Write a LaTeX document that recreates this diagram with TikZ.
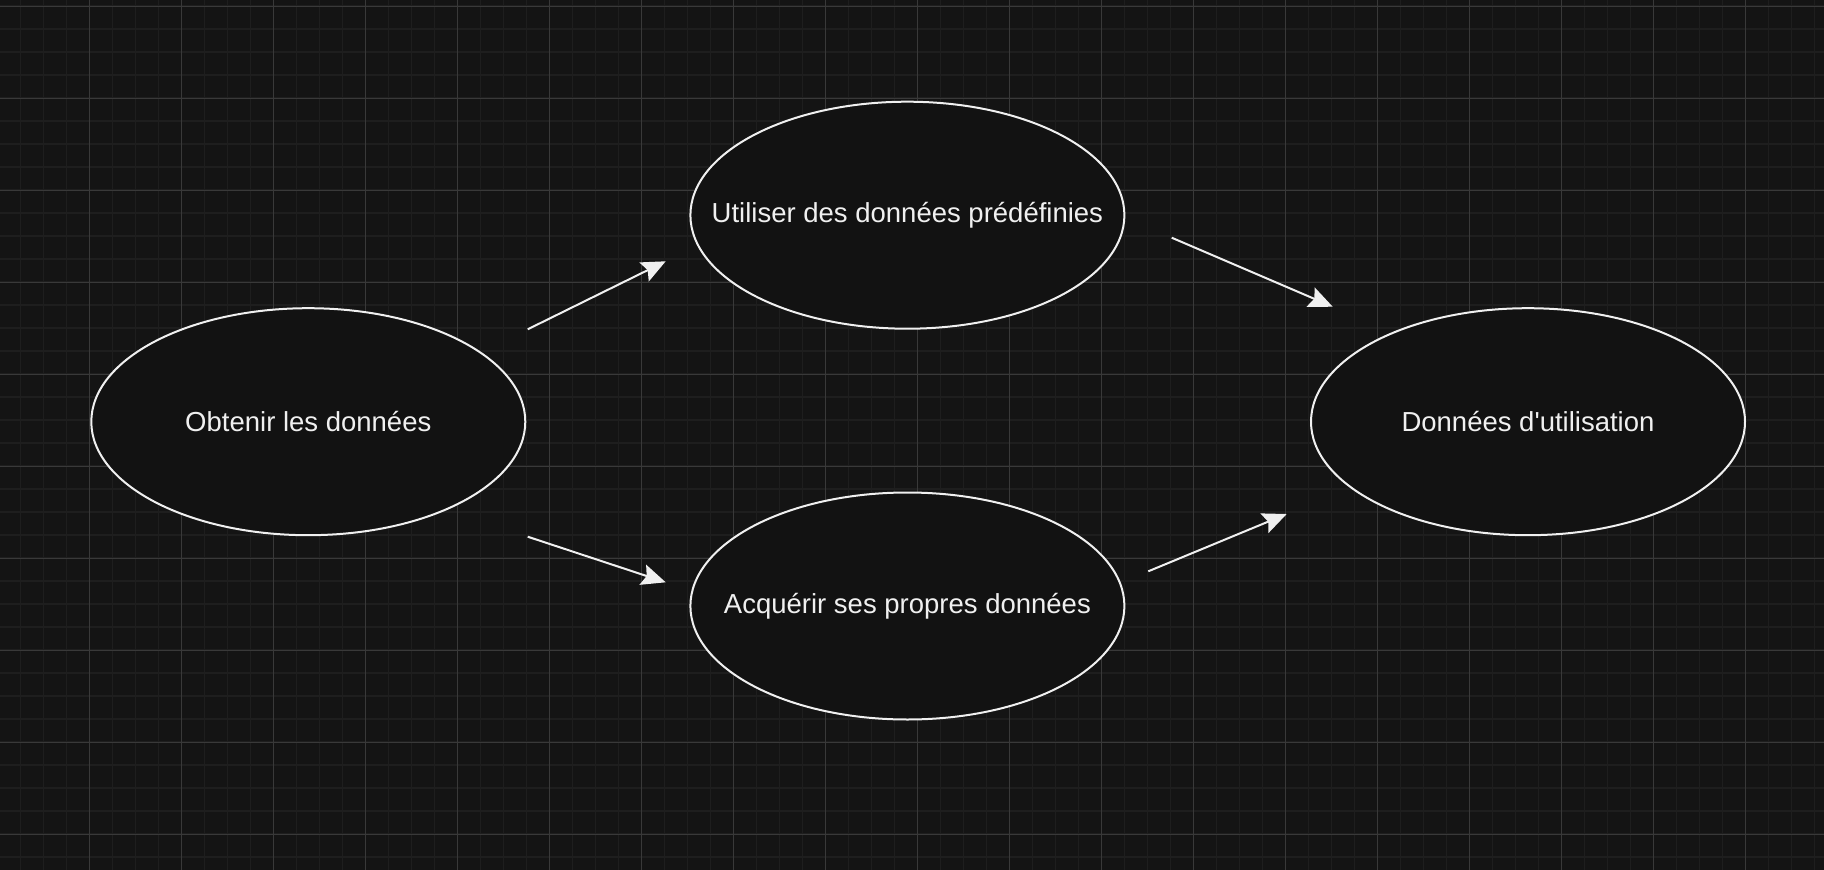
\documentclass[tikz,border=0pt]{standalone}
\usepackage{fontspec}
\setmainfont{Liberation Sans}[Ligatures=TeXOff]
\usetikzlibrary{shapes.geometric,arrows.meta}
\definecolor{bg}{HTML}{141414}
\definecolor{minorgrid}{HTML}{1E1E1E}
\definecolor{majorgrid}{HTML}{393939}
\definecolor{fg}{HTML}{F0F0F0}
\definecolor{nodefill}{HTML}{121212}
\newcommand{\ctext}[1]{\makebox[0pt][c]{#1}}
\begin{document}
\begin{tikzpicture}[x=1pt,y=-1pt,
  ell/.style={ellipse, draw=fg, line width=2pt, fill=nodefill, minimum width=434pt, minimum height=227pt, inner sep=0pt, text=fg, font=\fontsize{27.5}{33}\selectfont},
  conn/.style={draw=fg, line width=2pt, -{Stealth[length=24pt,width=21pt,inset=4pt]}},
  minorline/.style={draw=minorgrid, line width=1.5pt},
  majorline/.style={draw=majorgrid, line width=1pt}]
\fill[bg] (0,0) rectangle (1824,870);
\useasboundingbox (0,0) rectangle (1824,870);
\begin{scope}
\clip (0,0) rectangle (1824,870);
\foreach \i in {0,...,80} \path[minorline] ({-2.7+23*\i},0) -- ++(0,870);
\foreach \i in {0,...,38} \path[minorline] (0,{-17+23*\i}) -- ++(1824,0);
\foreach \i in {0,...,20} \path[majorline] ({-2.7+92*\i},0) -- ++(0,870);
\foreach \i in {0,...,9} \path[majorline] (0,{6+92*\i}) -- ++(1824,0);
\end{scope}

\node[ell] (get) at (308.3,421.7) {\ctext{Obtenir les données}};
\node[ell] (pre) at (907.4,215.2) {\ctext{Utiliser des données prédéfinies}};
\node[ell] (own) at (907.4,606) {\ctext{Acquérir ses propres données}};
\node[ell] (use) at (1528,421.7) {\ctext{Données d'utilisation}};

\coordinate (a1s) at (527.7,329.3);
\coordinate (a1e) at (665.7,261.3);
\coordinate (a2s) at (527.7,536.7);
\coordinate (a2e) at (665.7,582.3);
\coordinate (a3s) at (1171.7,237.7);
\coordinate (a3e) at (1332.7,306.7);
\coordinate (a4s) at (1148.3,571.3);
\coordinate (a4e) at (1286.7,514);

\draw[conn] (a1s) -- (a1e);
\draw[conn] (a2s) -- (a2e);
\draw[conn] (a3s) -- (a3e);
\draw[conn] (a4s) -- (a4e);
\end{tikzpicture}
\end{document}
